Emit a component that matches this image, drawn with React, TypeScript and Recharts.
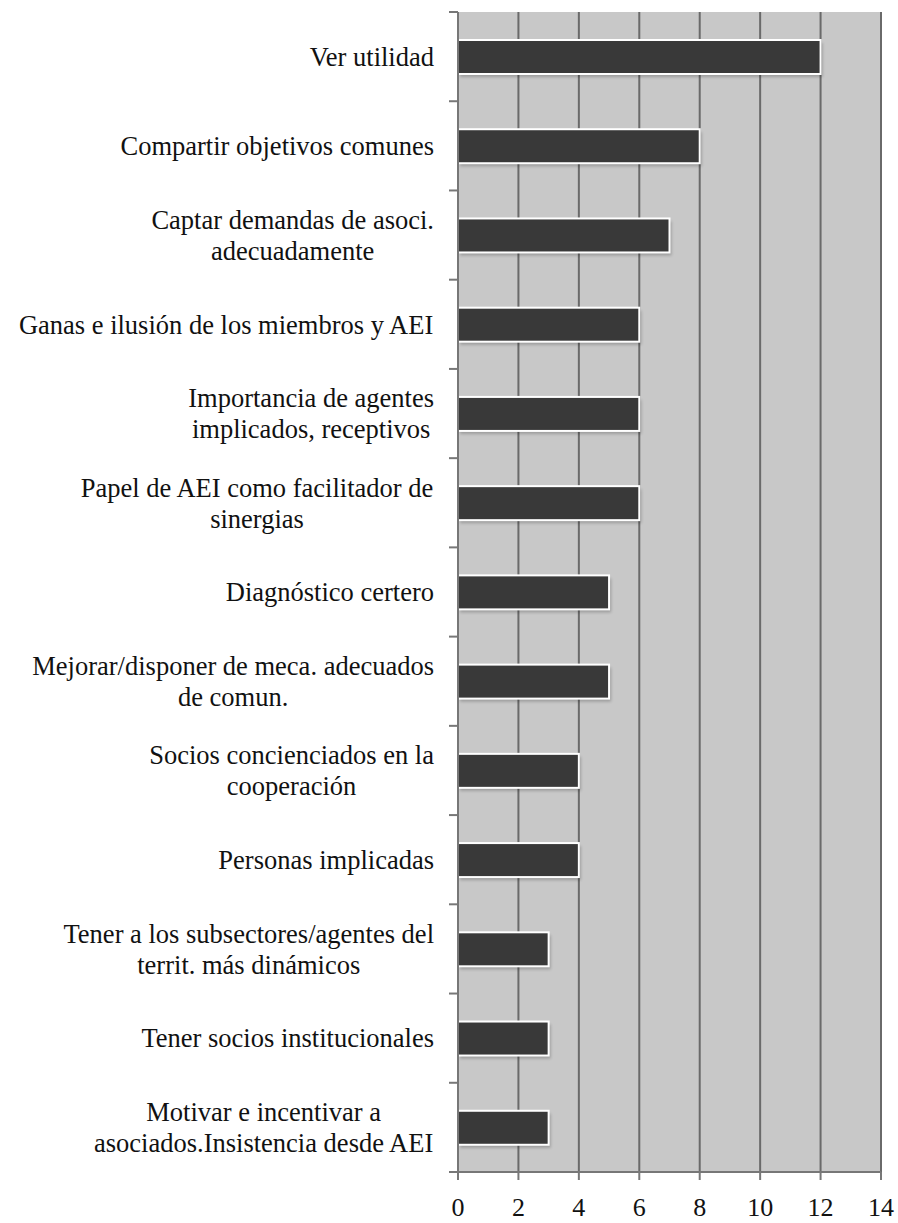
import { BarChart, Bar, XAxis, YAxis, CartesianGrid } from 'recharts'

const categories = [
  'Ver utilidad',
  'Compartir objetivos comunes',
  'Captar demandas de asoci.\nadecuadamente',
  'Ganas e ilusión de los miembros y AEI',
  'Importancia de agentes\nimplicados, receptivos',
  'Papel de AEI como facilitador de\nsinergias',
  'Diagnóstico certero',
  'Mejorar/disponer de meca. adecuados\nde comun.',
  'Socios concienciados en la\ncooperación',
  'Personas implicadas',
  'Tener a los subsectores/agentes del\nterrit. más dinámicos',
  'Tener socios institucionales',
  'Motivar e incentivar a\nasociados.Insistencia desde AEI',
]
const values = [12, 8, 7, 6, 6, 6, 5, 5, 4, 4, 3, 3, 3]
const xTicks = [0, 2, 4, 6, 8, 10, 12, 14]

const data = categories.map((name, i) => ({ name, value: values[i] }))

const FONT = '"Liberation Serif", "Times New Roman", serif'
const FONT_SIZE = 26.5
const LINE_H = 31
const TICK_SIZE = 9
const TICK_MARGIN = 15
const AXIS_COLOR = '#777'

let ctx: CanvasRenderingContext2D | null = null
function textWidth(s: string): number {
  if (!ctx && typeof document !== 'undefined') ctx = document.createElement('canvas').getContext('2d')
  if (!ctx) return s.length * FONT_SIZE * 0.45
  ctx.font = `${FONT_SIZE}px ${FONT}`
  return ctx.measureText(s).width
}

// multi-line label, lines centered on each other, block right-aligned
function CategoryTick(props: any) {
  const { x, y, payload, index } = props
  const lines = String(payload.value).split('\n')
  const block = Math.max(...lines.map(textWidth))
  const cx = x - block / 2
  const half = payload.offset ?? 44.6
  const y0 = y - ((lines.length - 1) * LINE_H) / 2
  return (
    <g>
      {lines.map((l, i) => (
        <text key={i} x={cx} y={y0 + i * LINE_H} dy="0.35em" textAnchor="middle"
          fontFamily={FONT} fontSize={FONT_SIZE} fill="#111">{l}</text>
      ))}
      <line x1={x + TICK_MARGIN} x2={x + TICK_MARGIN + TICK_SIZE} y1={y - half} y2={y - half}
        stroke={AXIS_COLOR} strokeWidth={2} />
      {index === categories.length - 1 && (
        <line x1={x + TICK_MARGIN} x2={x + TICK_MARGIN + TICK_SIZE} y1={y + half} y2={y + half}
          stroke={AXIS_COLOR} strokeWidth={2} />
      )}
    </g>
  )
}

function ValueTick(props: any) {
  const { x, y, payload } = props
  return (
    <text x={x} y={y} dy={24} textAnchor="middle" fontFamily={FONT} fontSize={26} fill="#111">
      {payload.value}
    </text>
  )
}

function ShadowBar(props: any) {
  const { x, y, width, height } = props
  return (
    <g>
      <rect x={x + 2} y={y + 3} width={width} height={height} fill="#000" opacity={0.22} filter="url(#blur)" />
      <rect x={x} y={y} width={width} height={height} fill="#393939" stroke="#fff" strokeWidth={2} />
    </g>
  )
}

export default function App() {
  return (
    <div style={{ position: 'absolute', left: 0, top: 0, background: '#fff' }}>
      <BarChart
        width={898}
        height={1223}
        data={data}
        layout="vertical"
        margin={{ top: 12, right: 17, bottom: 0, left: 0 }}
        barSize={34}
      >
        <defs>
          <filter id="blur" x="-10%" y="-30%" width="120%" height="160%">
            <feGaussianBlur stdDeviation="1.5" />
          </filter>
        </defs>
        <CartesianGrid horizontal={false} stroke="#6a6a6a" strokeWidth={2} fill="#c8c8c8" />
        <XAxis
          type="number"
          domain={[0, 14]}
          ticks={xTicks}
          interval={0}
          height={51}
          axisLine={{ stroke: AXIS_COLOR, strokeWidth: 2 }}
          tickLine={{ stroke: AXIS_COLOR, strokeWidth: 2 }}
          tickSize={8}
          tickMargin={12}
          tick={<ValueTick />}
        />
        <YAxis
          type="category"
          dataKey="name"
          width={458}
          interval={0}
          axisLine={{ stroke: AXIS_COLOR, strokeWidth: 2 }}
          tickLine={false}
          tickSize={TICK_SIZE}
          tickMargin={TICK_MARGIN}
          tick={<CategoryTick />}
        />
        <Bar dataKey="value" isAnimationActive={false} shape={<ShadowBar />} />
      </BarChart>
    </div>
  )
}
